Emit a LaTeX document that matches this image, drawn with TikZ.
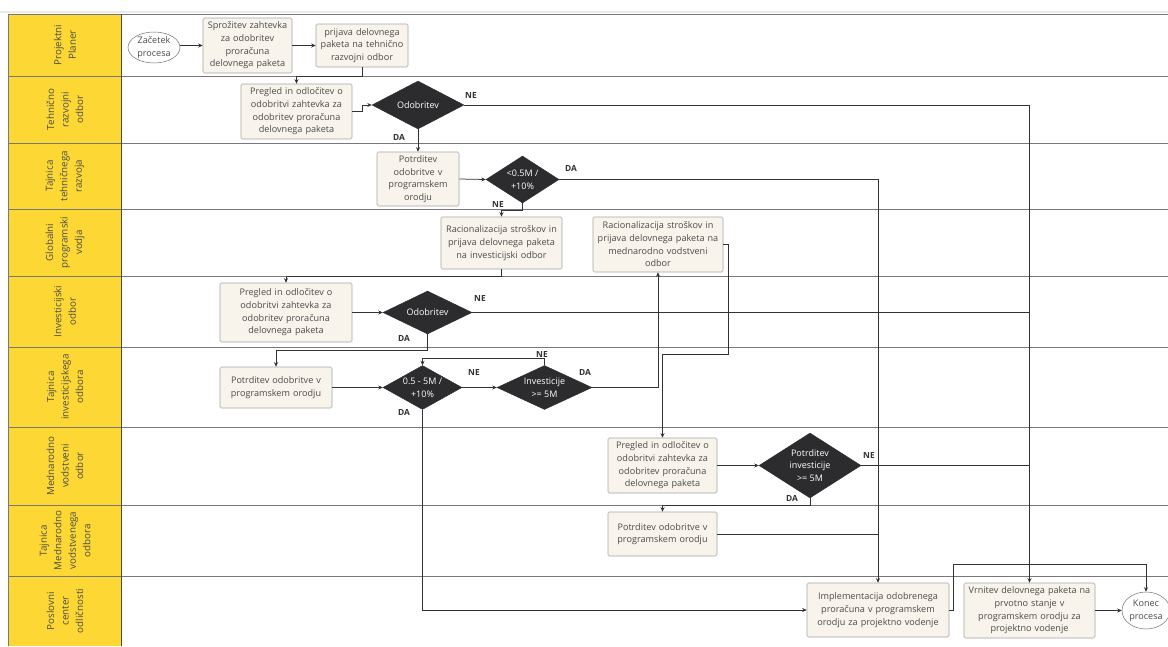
\documentclass[tikz,border=0pt]{standalone}
\usepackage{fontspec}
\setmainfont{Open Sans}
\usetikzlibrary{arrows.meta,shapes.geometric,calc}
\definecolor{laneyellow}{RGB}{253,216,52}
\definecolor{laneline}{RGB}{120,120,120}
\definecolor{boxfill}{RGB}{248,244,236}
\definecolor{boxline}{RGB}{165,165,165}
\definecolor{decfill}{RGB}{44,44,47}
\definecolor{textgray}{RGB}{75,75,75}
\definecolor{wire}{RGB}{50,50,50}
\tikzset{
  lanelabel/.style={rotate=90, align=center, text=textgray, font=\fontsize{9.8}{14.5}\selectfont},
  stepbox/.style 2 args={draw=boxline, line width=0.6pt, fill=boxfill, rounded corners=1.5pt,
    minimum width=#1, minimum height=#2, text width=#1-2pt, inner sep=0pt, align=center,
    text=textgray, font=\fontsize{9.1}{12.7}\selectfont},
  decision/.style n args={3}{diamond, fill=decfill, draw=decfill, minimum width=#1, minimum height=#2,
    inner sep=0pt, label={[text=white, align=center, font=\fontsize{9}{12.7}\selectfont]center:#3}},
  terminal/.style 2 args={ellipse, draw=black!55, line width=0.5pt, fill=white, minimum width=#1,
    minimum height=#2, inner sep=0pt, align=center, text=textgray, font=\fontsize{9.1}{12.7}\selectfont},
  wireline/.style={draw=wire, line width=0.75pt},
  arr/.style={wireline, -{Stealth[length=4.5pt,width=4pt]}},
  tag/.style={font=\bfseries\fontsize{8.4}{10}\selectfont, text=wire, inner sep=0pt},
}
\begin{document}
\begin{tikzpicture}[x=1pt,y=-1pt]
\useasboundingbox (0,0) rectangle (1168,646);
\fill[white] (0,0) rectangle (1168,646);

% swimlane header column
\foreach \t/\b/\txt [count=\i] in {14/76/{Projektni\\Planer}, 76/143/{Tehnično\\razvojni\\odbor},
  143/209/{Tajnica\\tehničnega\\razvoja}, 209/276/{Globalni\\programski\\vodja},
  276/347/{Investicijski\\odbor}, 347/427/{Tajnica\\investicijskega\\odbora},
  427/505/{Mednarodno\\vodstveni\\odbor}, 505/576/{Tajnica\\Mednarodno\\vodstvenega\\odbora},
  576/646/{Poslovni\\center\\odličnosti}} {
  \fill[laneyellow] (8,\t) rectangle (121,\b);
  \node[lanelabel, name=lane\i] at (65,{(\t+\b)/2}) {\txt};
}
% lane borders
\draw[black!8, line width=2pt] (0,12) -- (1168,12);
\foreach \y in {14,76,143,209,276,347,427,505,576}
  \draw[laneline, line width=0.8pt] (8,\y) -- (1168,\y);
\draw[laneline, line width=0.8pt] (8,14) -- (8,646);
\draw[black!70, line width=0.8pt] (121,14) -- (121,646);

% process steps
\node[terminal={52pt}{31pt}] (start) at (154,47.5) {Začetek\\procesa};
\node[stepbox={89pt}{55pt}] (sproz) at (247.5,45.5) {Sprožitev zahtevka\\za odobritev\\proračuna\\delovnega paketa};
\node[stepbox={92pt}{43pt}] (prijava) at (362,45.5) {prijava delovnega\\paketa na tehnično\\razvojni odbor};
\node[stepbox={111pt}{55pt}] (preg1) at (296.5,111.5) {Pregled in odločitev o\\odobritvi zahtevka za\\odobritev proračuna\\delovnega paketa};
\node[decision={92pt}{48pt}{Odobritev}] (odo1) at (418,105) {};
\node[stepbox={82pt}{54pt}] (potr1) at (418,179) {Potrditev\\odobritve v\\programskem\\orodju};
\node[decision={73pt}{47pt}{<0.5M /\\+10\%}] (d05) at (522.5,179.5) {};
\node[stepbox={121pt}{52pt}] (rac1) at (501.5,243) {Racionalizacija stroškov in\\prijava delovnega paketa\\na investicijski odbor};
\node[stepbox={130pt}{55pt}] (rac2) at (658,244.5) {Racionalizacija stroškov in\\prijava delovnega paketa na\\mednarodno vodstveni\\odbor};
\node[stepbox={132pt}{59pt}] (preg2) at (286,312.5) {Pregled in odločitev o\\odobritvi zahtevka za\\odobritev proračuna\\delovnega paketa};
\node[decision={89pt}{43pt}{Odobritev}] (odo2) at (427.5,312.5) {};
\node[stepbox={112pt}{41pt}] (potr2) at (276,387.5) {Potrditev odobritve v\\programskem orodju};
\node[decision={79pt}{44pt}{0.5 - 5M /\\+10\%}] (d5) at (422.5,387.5) {};
\node[decision={95pt}{44pt}{Investicije\\>= 5M}] (inv) at (544.5,387.5) {};
\node[stepbox={109pt}{55pt}] (preg3) at (662.5,465.5) {Pregled in odločitev o\\odobritvi zahtevka za\\odobritev proračuna\\delovnega paketa};
\node[decision={102pt}{65pt}{Potrditev\\investicije\\>= 5M}] (pinv) at (810,465.5) {};
\node[stepbox={109pt}{44pt}] (potr3) at (662.5,534) {Potrditev odobritve v\\programskem orodju};
\node[stepbox={142pt}{54pt}] (impl) at (878,610) {Implementacija odobrenega\\proračuna v programskem\\orodju za projektno vodenje};
\node[stepbox={131pt}{55pt}] (vrn) at (1029.5,610.5) {Vrnitev delovnega paketa na\\prvotno stanje v\\programskem orodju za\\projektno vodenje};
\node[terminal={48pt}{37pt}] (konec) at (1146,610.5) {Konec\\procesa};

% connectors
\draw[arr] (sproz.west -| start.east) -- (sproz.west);
\draw[arr] (sproz.east) -- (prijava.west);
\draw[arr] (prijava.south) -- ++(0,9) -| (preg1.north);
\draw[arr] (preg1.east) -- ++(10,0) |- (odo1.west);
\draw[arr] (odo1.east) -| (vrn.north);
\draw[arr] (odo1.south) -- (potr1.north);
\draw[arr] (potr1.east) -- (d05.west);
\draw[arr] (d05.east) -| (impl.north);
\draw[arr] (d05.south) -- ++(0,7) -| (rac1.north);
\draw[arr] (rac1.south) -- ++(0,7) -| (preg2.north);
\draw[arr] (preg2.east) -- (odo2.west);
\draw[wireline] (odo2.east) -- (odo2.east -| vrn.north);
\draw[arr] (odo2.south) -- ++(0,16) -| (potr2.north);
\draw[arr] (potr2.east) -- (d5.west);
\draw[arr] (d5.east) -- (inv.west);
\draw[arr] (inv.north) -- ++(0,-7) -| (d5.north);
\draw[arr] (inv.east) -| (rac2.south);
\draw[arr] (d5.south) |- (impl.west);
\draw[arr] (rac2.east) -| ++(5,110) -| (preg3.north);
\draw[arr] (preg3.east) -- (pinv.west);
\draw[wireline] (pinv.east) -- (pinv.east -| vrn.north);
\draw[arr] (pinv.south) -- ++(0,7) -| (potr3.north);
\draw[wireline] (potr3.east) -- (potr3.east -| impl.north);
\draw[arr] (impl.east) -| ++(4,-46) -| (konec.north);
\draw[arr] (vrn.east) -- (konec.west);

% branch labels
\node[tag] (ne1) at (471,95) {NE};
\node[tag] (da1) at (399,137) {DA};
\node[tag] (da2) at (571,168) {DA};
\node[tag] (ne2) at (498,204) {NE};
\node[tag] (ne3) at (480,298) {NE};
\node[tag] (da3) at (404,338) {DA};
\node[tag] (ne4) at (474,372) {NE};
\node[tag] (da4) at (585,372) {DA};
\node[tag] (ne5) at (542,354) {NE};
\node[tag] (da5) at (404,412) {DA};
\node[tag] (ne6) at (869,455) {NE};
\node[tag] (da6) at (792,498) {DA};
\end{tikzpicture}
\end{document}
